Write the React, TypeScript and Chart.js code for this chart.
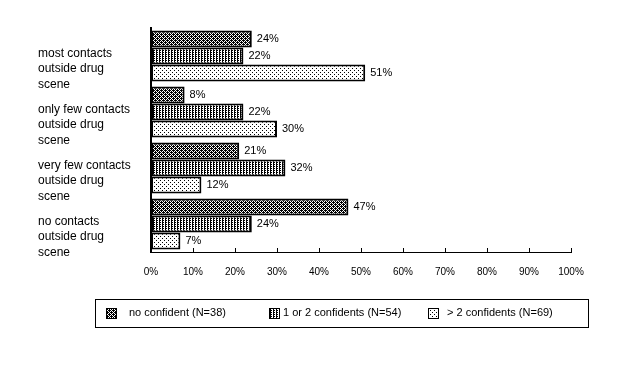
import React, { useEffect, useRef } from "react";
import { Chart, registerables } from "chart.js";

Chart.register(...registerables);

const categories: string[][] = [
  ["most contacts", "outside drug", "scene"],
  ["only few contacts", "outside drug", "scene"],
  ["very few contacts", "outside drug", "scene"],
  ["no contacts", "outside drug", "scene"],
];
const seriesNames = ["no confident (N=38)", "1 or 2 confidents (N=54)", "> 2 confidents (N=69)"];
const noConfident = [24, 8, 21, 47];
const oneOrTwo = [22, 22, 32, 24];
const moreThanTwo = [51, 30, 12, 7];
const xTickValues = [0, 10, 20, 30, 40, 50, 60, 70, 80, 90, 100];

const FONT = "'Liberation Sans', Arial, Helvetica, sans-serif";

function makePattern(kind: number): CanvasPattern | string {
  const w = kind === 1 ? 3 : 4;
  const h = kind === 1 ? 2 : 4;
  const c = document.createElement("canvas");
  c.width = w;
  c.height = h;
  const ctx = c.getContext("2d");
  if (!ctx) return "#888";
  ctx.fillStyle = "#fff";
  ctx.fillRect(0, 0, w, h);
  ctx.fillStyle = "#000";
  for (let x = 0; x < w; x++) {
    for (let y = 0; y < h; y++) {
      let on = false;
      if (kind === 0) {
        on = (x + y) % 2 === 0 || (x === 1 && y === 2) || (x === 3 && y === 0);
      } else if (kind === 1) {
        on = x === 0 || (x === 1 && y === 0);
      } else {
        on = (x === 0 && y === 0) || (x === 2 && y === 2);
      }
      if (on) ctx.fillRect(x, y, 1, 1);
    }
  }
  const p = ctx.createPattern(c, "repeat");
  return p || "#888";
}

export default function App() {
  const ref = useRef<HTMLCanvasElement | null>(null);

  useEffect(() => {
    if (!ref.current) return;
    const patterns = [makePattern(0), makePattern(1), makePattern(2)];
    const seriesData = [noConfident, oneOrTwo, moreThanTwo];

    const catLabels = {
      id: "catLabels",
      afterDraw(chart: any) {
        const ctx = chart.ctx;
        const ys = chart.scales.y;
        ctx.save();
        ctx.font = `12px ${FONT}`;
        ctx.fillStyle = "#000";
        ctx.textAlign = "left";
        ctx.textBaseline = "middle";
        categories.forEach((lines, i) => {
          const yc = ys.getPixelForValue(i) + 13;
          lines.forEach((ln, j) => {
            ctx.fillText(ln, 38, yc + (j - 1) * 15.5);
          });
        });
        ctx.restore();
      },
    };

    const valueLabels = {
      id: "valueLabels",
      afterDatasetsDraw(chart: any) {
        const ctx = chart.ctx;
        ctx.save();
        ctx.font = `11px ${FONT}`;
        ctx.fillStyle = "#000";
        ctx.textAlign = "left";
        ctx.textBaseline = "middle";
        chart.data.datasets.forEach((ds: any, di: number) => {
          const meta = chart.getDatasetMeta(di);
          meta.data.forEach((el: any, i: number) => {
            ctx.fillText(ds.data[i] + "%", el.x + 5, el.y);
          });
        });
        ctx.restore();
      },
    };

    const axisTicks = {
      id: "axisTicks",
      afterDraw(chart: any) {
        const ctx = chart.ctx;
        const xs = chart.scales.x;
        const b = chart.chartArea.bottom;
        ctx.save();
        ctx.strokeStyle = "#000";
        ctx.lineWidth = 1;
        xTickValues.forEach((v) => {
          const x = Math.round(xs.getPixelForValue(v)) + 0.5;
          ctx.beginPath();
          ctx.moveTo(x, b);
          ctx.lineTo(x, b - 4);
          ctx.stroke();
        });
        ctx.restore();
      },
    };

    const legendBox = {
      id: "legendBox",
      afterDraw(chart: any) {
        const ctx = chart.ctx;
        ctx.save();
        ctx.strokeStyle = "#000";
        ctx.lineWidth = 1;
        ctx.strokeRect(95.5, 299.5, 493, 28);
        const swatchX = [106, 269, 428];
        const textX = [129, 283, 447];
        const cy = 313;
        ctx.font = `11px ${FONT}`;
        ctx.textAlign = "left";
        ctx.textBaseline = "middle";
        seriesNames.forEach((name, i) => {
          ctx.fillStyle = patterns[i] as any;
          ctx.fillRect(swatchX[i], cy - 5, 10, 10);
          ctx.strokeRect(swatchX[i] + 0.5, cy - 5 + 0.5, 10, 10);
          ctx.fillStyle = "#000";
          ctx.fillText(name, textX[i], cy);
        });
        ctx.restore();
      },
    };

    const chart = new Chart(ref.current, {
      type: "bar",
      data: {
        labels: categories.map((c) => c.join(" ")),
        datasets: seriesData.map((d, i) => ({
          label: seriesNames[i],
          data: d,
          backgroundColor: patterns[i] as any,
          borderColor: "#000",
          borderWidth: 2,
          borderSkipped: false,
          categoryPercentage: 0.91,
          barPercentage: 1.0,
        })),
      },
      options: {
        indexAxis: "y",
        animation: false,
        responsive: false,
        maintainAspectRatio: false,
        layout: { padding: { left: 151, right: 69, top: 28, bottom: 0 } },
        plugins: {
          legend: { display: false },
          tooltip: { enabled: false },
        },
        scales: {
          x: {
            type: "linear",
            min: 0,
            max: 100,
            afterFit(scale: any) {
              scale.height = 114;
            },
            afterBuildTicks(scale: any) {
              scale.ticks = xTickValues.map((v) => ({ value: v }));
            },
            grid: { display: false, drawTicks: false },
            border: { display: true, color: "#000", width: 1 },
            ticks: {
              padding: 14,
              color: "#000",
              font: { family: FONT, size: 10 },
              callback: (v: any) => v + "%",
            },
          },
          y: {
            type: "category",
            afterFit(scale: any) {
              scale.width = 0;
            },
            grid: { display: false, drawTicks: false },
            border: { display: true, color: "#000", width: 2 },
            ticks: { display: false },
          },
        },
      },
      plugins: [catLabels, valueLabels, axisTicks, legendBox],
    } as any);

    return () => chart.destroy();
  }, []);

  return (
    <div style={{ position: "fixed", left: 0, top: 0, width: 640, height: 366, background: "#fff" }}>
      <canvas ref={ref} width={640} height={366} style={{ width: 640, height: 366, display: "block" }} />
    </div>
  );
}
